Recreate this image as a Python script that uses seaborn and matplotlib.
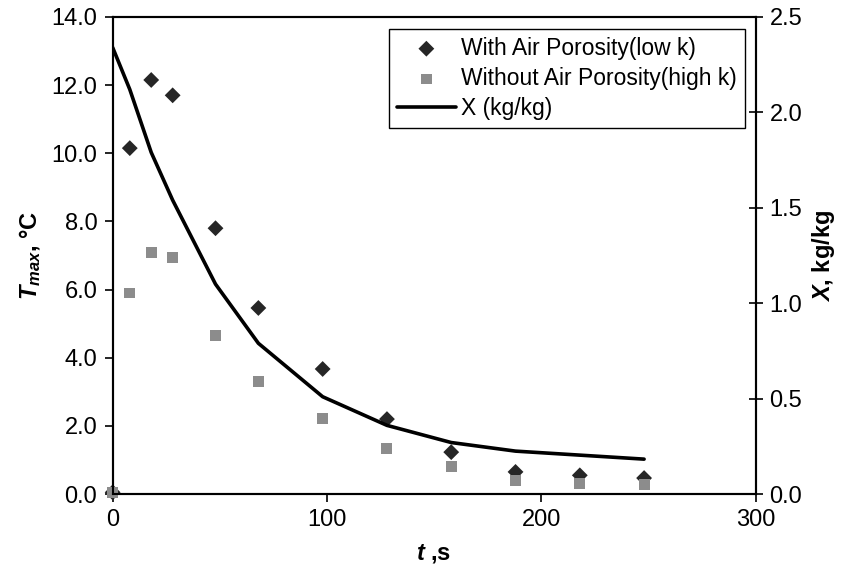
import matplotlib
matplotlib.use('Agg')
import matplotlib.pyplot as plt
import seaborn as sns
import pandas as pd

# time (s)
t_s = [0, 8, 18, 28, 48, 68, 98, 128, 158, 188, 218, 248]
# Tmax, degC
t_low_k = [0.05, 10.15, 12.15, 11.7, 7.8, 5.46, 3.67, 2.2, 1.23, 0.65, 0.55, 0.47]
t_high_k = [0.05, 5.9, 7.1, 6.95, 4.64, 3.29, 2.23, 1.35, 0.8, 0.41, 0.32, 0.27]
# moisture content X, kg/kg
x_kgkg = [2.34, 2.12, 1.79, 1.54, 1.10, 0.79, 0.51, 0.36, 0.27, 0.225, 0.204, 0.183]

df = pd.DataFrame({'t': t_s, 'low': t_low_k, 'high': t_high_k, 'X': x_kgkg})

sns.set_style('white')
plt.rcParams['font.family'] = ['Liberation Sans', 'DejaVu Sans']
plt.rcParams['text.color'] = 'black'
plt.rcParams['axes.labelcolor'] = 'black'
plt.rcParams['xtick.color'] = 'black'
plt.rcParams['ytick.color'] = 'black'
plt.rcParams['mathtext.fontset'] = 'custom'
plt.rcParams['mathtext.rm'] = 'Liberation Sans'
plt.rcParams['mathtext.it'] = 'Liberation Sans:italic'
plt.rcParams['mathtext.bf'] = 'Liberation Sans:bold'
plt.rcParams['mathtext.bfit'] = 'Liberation Sans:bold:italic'

fig = plt.figure(figsize=(8.47, 5.84), dpi=100)
ax = fig.add_axes([0.133, 0.154, 0.759, 0.817])
ax2 = ax.twinx()

sns.scatterplot(data=df, x='t', y='low', ax=ax, marker='D', s=65, color='#262626',
                edgecolor='none', label='With Air Porosity(low k)', legend=False,
                zorder=3, clip_on=False)
sns.scatterplot(data=df, x='t', y='high', ax=ax, marker='s', s=62, color='#8c8c8c',
                edgecolor='none', label='Without Air Porosity(high k)', legend=False,
                zorder=4, clip_on=False)
sns.lineplot(data=df, x='t', y='X', ax=ax2, color='black', lw=2.6,
             label='X (kg/kg)', legend=False)

ax.set_xlim(0, 300)
ax.set_ylim(0, 14)
ax2.set_ylim(0, 2.5)
ax.set_xticks([0, 100, 200, 300])
ax.set_yticks([0, 2, 4, 6, 8, 10, 12, 14])
ax.set_yticklabels([f'{v:.1f}' for v in [0, 2, 4, 6, 8, 10, 12, 14]])
ax2.set_yticks([0, 0.5, 1.0, 1.5, 2.0, 2.5])
ax2.set_yticklabels([f'{v:.1f}' for v in [0, 0.5, 1.0, 1.5, 2.0, 2.5]])

for a in (ax, ax2):
    for sp in a.spines.values():
        sp.set_color('black')
        sp.set_linewidth(1.5)
ax.tick_params(axis='both', labelsize=17, direction='out', length=6, width=1.2,
               left=True, bottom=True, pad=5)
ax2.tick_params(axis='y', labelsize=17, direction='inout', length=10, width=1.2,
                right=True, pad=5)

ax.set_xlabel(r'$\mathbfit{t}$ ,s', fontsize=17, fontweight='bold', labelpad=8)
ax.set_ylabel(r'$\mathbfit{T}_{\mathbfit{max}}$, °C', fontsize=17, fontweight='bold', labelpad=6)
ax2.set_ylabel(r'$\mathbfit{X}$, kg/kg', fontsize=17, fontweight='bold', labelpad=6)

h1, l1 = ax.get_legend_handles_labels()
h2, l2 = ax2.get_legend_handles_labels()
leg = ax2.legend(h1 + h2, l1 + l2, loc='upper right', bbox_to_anchor=(0.99, 0.985),
                 fontsize=16.5, frameon=True, fancybox=False, framealpha=1,
                 edgecolor='black', handlelength=2.6, handletextpad=0.2,
                 borderpad=0.35, borderaxespad=0.2, labelspacing=0.32)
leg.get_frame().set_linewidth(1.0)

fig.savefig('out.png', dpi=100)
